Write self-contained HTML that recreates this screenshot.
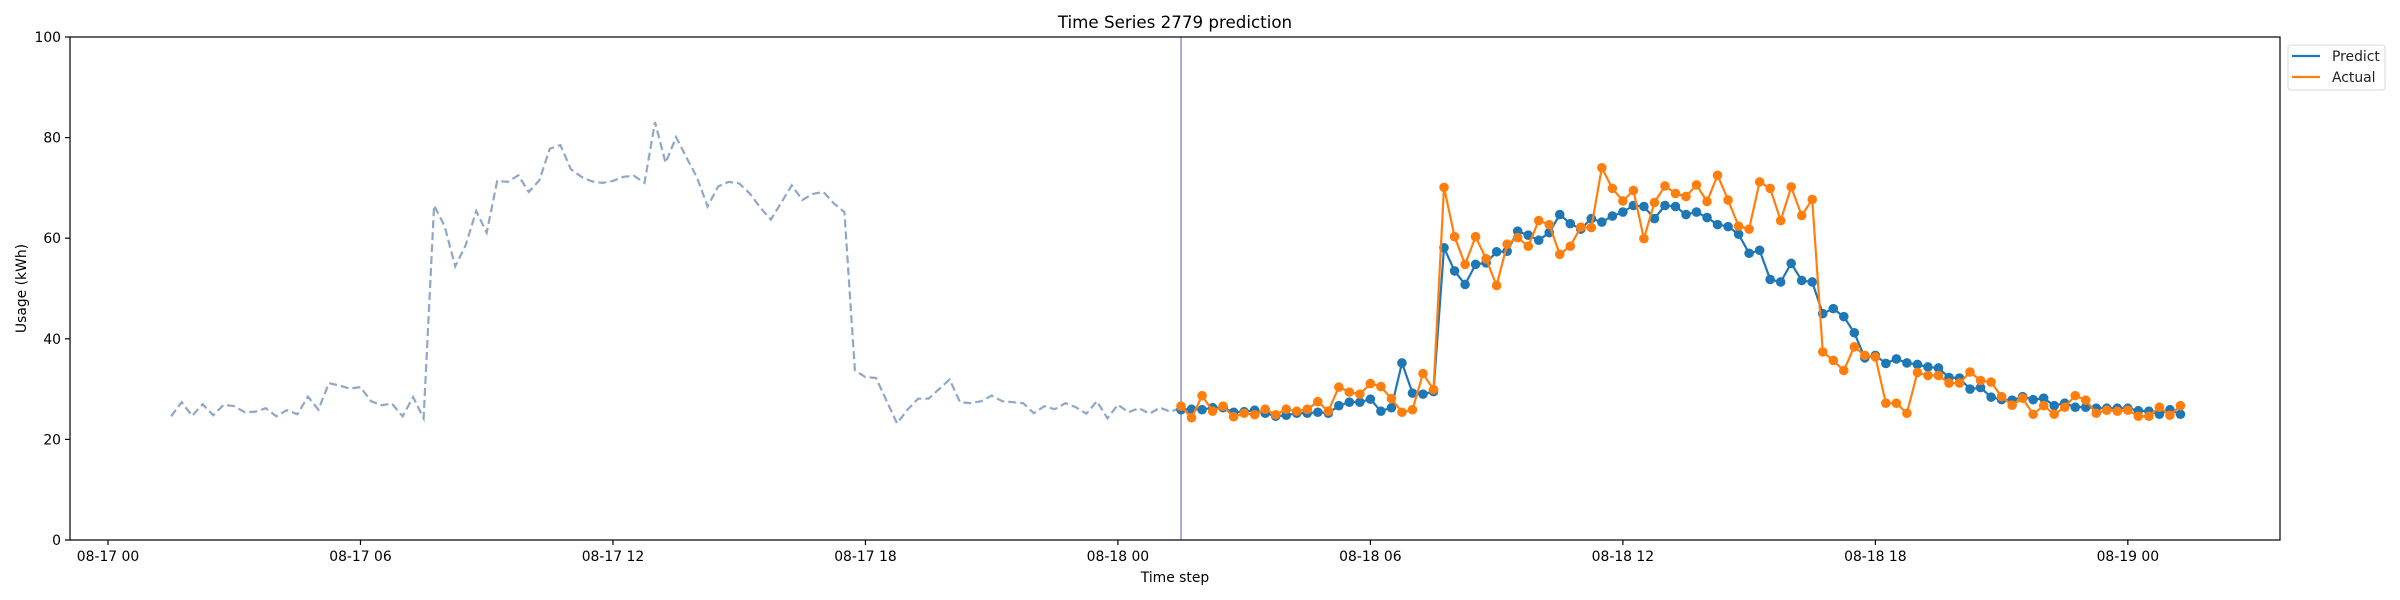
<!DOCTYPE html>
<html><head><meta charset="utf-8"><style>
html,body{margin:0;padding:0;background:#fff;}
svg{display:block;font-family:"DejaVu Sans","Liberation Sans",sans-serif;}
</style></head><body>
<svg id="chart" width="2400" height="600" viewBox="0 0 2400 600"></svg>
<script>
const historyValues=[24.6,27.4,24.7,27.0,24.8,26.9,26.6,25.4,25.5,26.2,24.6,25.8,25.0,28.5,25.9,31.2,30.7,30.1,30.4,27.6,26.8,27.1,24.6,28.4,24.2,66.5,62.4,54.4,58.6,65.4,61.1,71.4,71.2,72.5,69.2,71.5,77.8,78.5,73.7,72.2,71.3,71.0,71.4,72.2,72.4,71.0,83.1,75.0,80.1,76.0,72.0,66.3,70.3,71.2,70.9,68.9,66.1,63.7,67.1,70.5,67.6,68.8,69.2,66.9,65.2,33.7,32.4,32.2,27.7,23.2,25.9,28.1,28.1,30.0,31.9,27.4,27.2,27.6,28.7,27.6,27.4,27.2,25.2,26.6,26.0,27.2,26.4,25.1,27.6,24.2,26.9,25.4,26.2,25.1,26.3,25.5,26.3];
const predictValues=[25.9,26.0,25.9,26.3,26.3,25.4,25.5,25.8,25.2,24.6,24.8,25.2,25.2,25.4,25.2,26.7,27.4,27.4,28.0,25.6,26.3,35.2,29.2,29.0,29.5,58.1,53.5,50.8,54.8,55.1,57.3,57.4,61.4,60.6,59.6,61.1,64.7,62.9,61.8,63.9,63.2,64.4,65.2,66.5,66.3,63.9,66.5,66.3,64.7,65.2,64.1,62.7,62.3,60.8,57.0,57.6,51.8,51.3,55.0,51.6,51.3,45.0,46.0,44.4,41.2,36.2,36.7,35.1,36.0,35.2,34.9,34.4,34.2,32.3,32.2,30.0,30.3,28.4,27.9,27.8,28.5,27.9,28.2,26.7,27.2,26.4,26.4,26.2,26.2,26.2,26.2,25.7,25.6,25.0,25.9,25.0];
const actualValues=[26.6,24.3,28.7,25.6,26.6,24.5,25.2,24.9,26.0,24.9,26.0,25.6,26.0,27.5,25.6,30.4,29.4,29.0,31.1,30.5,28.1,25.4,25.9,33.1,29.9,70.1,60.3,54.8,60.3,55.9,50.6,58.8,60.1,58.4,63.5,62.7,56.8,58.4,62.2,62.1,74.0,69.9,67.4,69.5,59.9,67.1,70.4,68.9,68.3,70.6,67.3,72.5,67.6,62.4,61.8,71.2,69.9,63.5,70.2,64.5,67.7,37.4,35.7,33.7,38.4,36.7,36.4,27.2,27.2,25.2,33.3,32.7,32.7,31.2,31.2,33.4,31.7,31.4,28.5,26.8,28.2,25.0,26.7,25.0,26.4,28.7,27.8,25.2,25.8,25.6,25.8,24.6,24.6,26.4,24.8,26.7];
const historyStartHour=1.5;
const forecastStartHour=25.5;
const stepHours=0.25;
const yTicks=[0,20,40,60,80,100];
const xTickHours=[0,6,12,18,24,30,36,42,48];
const xTickLabels=["08-17 00","08-17 06","08-17 12","08-17 18","08-18 00","08-18 06","08-18 12","08-18 18","08-19 00"];

const NS="http://www.w3.org/2000/svg";
const svg=document.getElementById('chart');
const L=70,R=2280,T=37,B=540;
const X0=108,HOUR=42.08;
const xs=h=>X0+h*HOUR;
const ys=v=>B-(v-0)/(100-0)*(B-T);
function mk(tag,attrs,parent){const e=document.createElementNS(NS,tag);for(const k in attrs)e.setAttribute(k,attrs[k]);(parent||svg).appendChild(e);return e;}

// title
const title=mk('text',{x:(L+R)/2,y:28,'text-anchor':'middle','font-size':'16.7',fill:'#000'});
title.textContent='Time Series 2779 prediction';



// y ticks
yTicks.forEach(v=>{
  const t=mk('line',{x1:L-5,x2:L,y1:ys(v),y2:ys(v),stroke:'#000','stroke-width':1.2});
  
  
  const lb=mk('text',{x:L-9,y:ys(v)+5,'text-anchor':'end','font-size':'13.9',fill:'#000'});
  lb.textContent=v;
  
  
});
xTickHours.forEach((h,i)=>{
  const t=mk('line',{x1:xs(h),x2:xs(h),y1:B,y2:B+5,stroke:'#000','stroke-width':1.2});
  
  
  const lb=mk('text',{x:xs(h),y:B+21,'text-anchor':'middle','font-size':'13.9',fill:'#000'});
  lb.textContent=xTickLabels[i];
  
  
});
const xl=mk('text',{x:(L+R)/2,y:582,'text-anchor':'middle','font-size':'13.9',fill:'#000'});
xl.textContent='Time step';


const yl=mk('text',{x:0,y:0,'text-anchor':'middle','font-size':'13.9',fill:'#000',transform:`translate(26,${(T+B)/2}) rotate(-90)`});
yl.textContent='Usage (kWh)';



// history dashed
const hp=historyValues.map((v,i)=>`${xs(historyStartHour+i*stepHours).toFixed(1)},${ys(v).toFixed(1)}`).join(' ');
const hl=mk('polyline',{points:hp,fill:'none',stroke:'#8fa8c8','stroke-width':2.2,'stroke-dasharray':'8,4'});



// vertical marker
const vx=xs(forecastStartHour);
const vl=mk('line',{x1:vx,x2:vx,y1:T,y2:B,stroke:'#a3afd6','stroke-width':2});



function series(vals,color,name){
  const pts=vals.map((v,i)=>[xs(forecastStartHour+i*stepHours),ys(v)]);
  const pl=mk('polyline',{points:pts.map(p=>p[0].toFixed(1)+','+p[1].toFixed(1)).join(' '),fill:'none',stroke:color,'stroke-width':2.2});
  
  
  pts.forEach(p=>{
    const c=mk('circle',{cx:p[0],cy:p[1],r:4.8,fill:color});
    
    
  });
}
series(predictValues,'#1f77b4','predict');
series(actualValues,'#ff7f0e','actual');

// frame
const fr=mk('rect',{x:L,y:T,width:R-L,height:B-T,fill:'none',stroke:'#000','stroke-width':1.2});



// legend
const lg=mk('g',{});


mk('rect',{x:2288,y:45,width:97,height:45,rx:3,fill:'#fff',stroke:'#d8d8d8','stroke-width':1},lg);
[['Predict','#1f77b4',56],['Actual','#ff7f0e',77]].forEach(([t,c,y])=>{
  const e=mk('g',{},lg);
  
  
  mk('line',{x1:2292,x2:2320,y1:y,y2:y,stroke:c,'stroke-width':2.2},e);
  const tx=mk('text',{x:2332,y:y+5,'font-size':'13.9',fill:'#222'},e);
  tx.textContent=t;
});
</script>
</body></html>
